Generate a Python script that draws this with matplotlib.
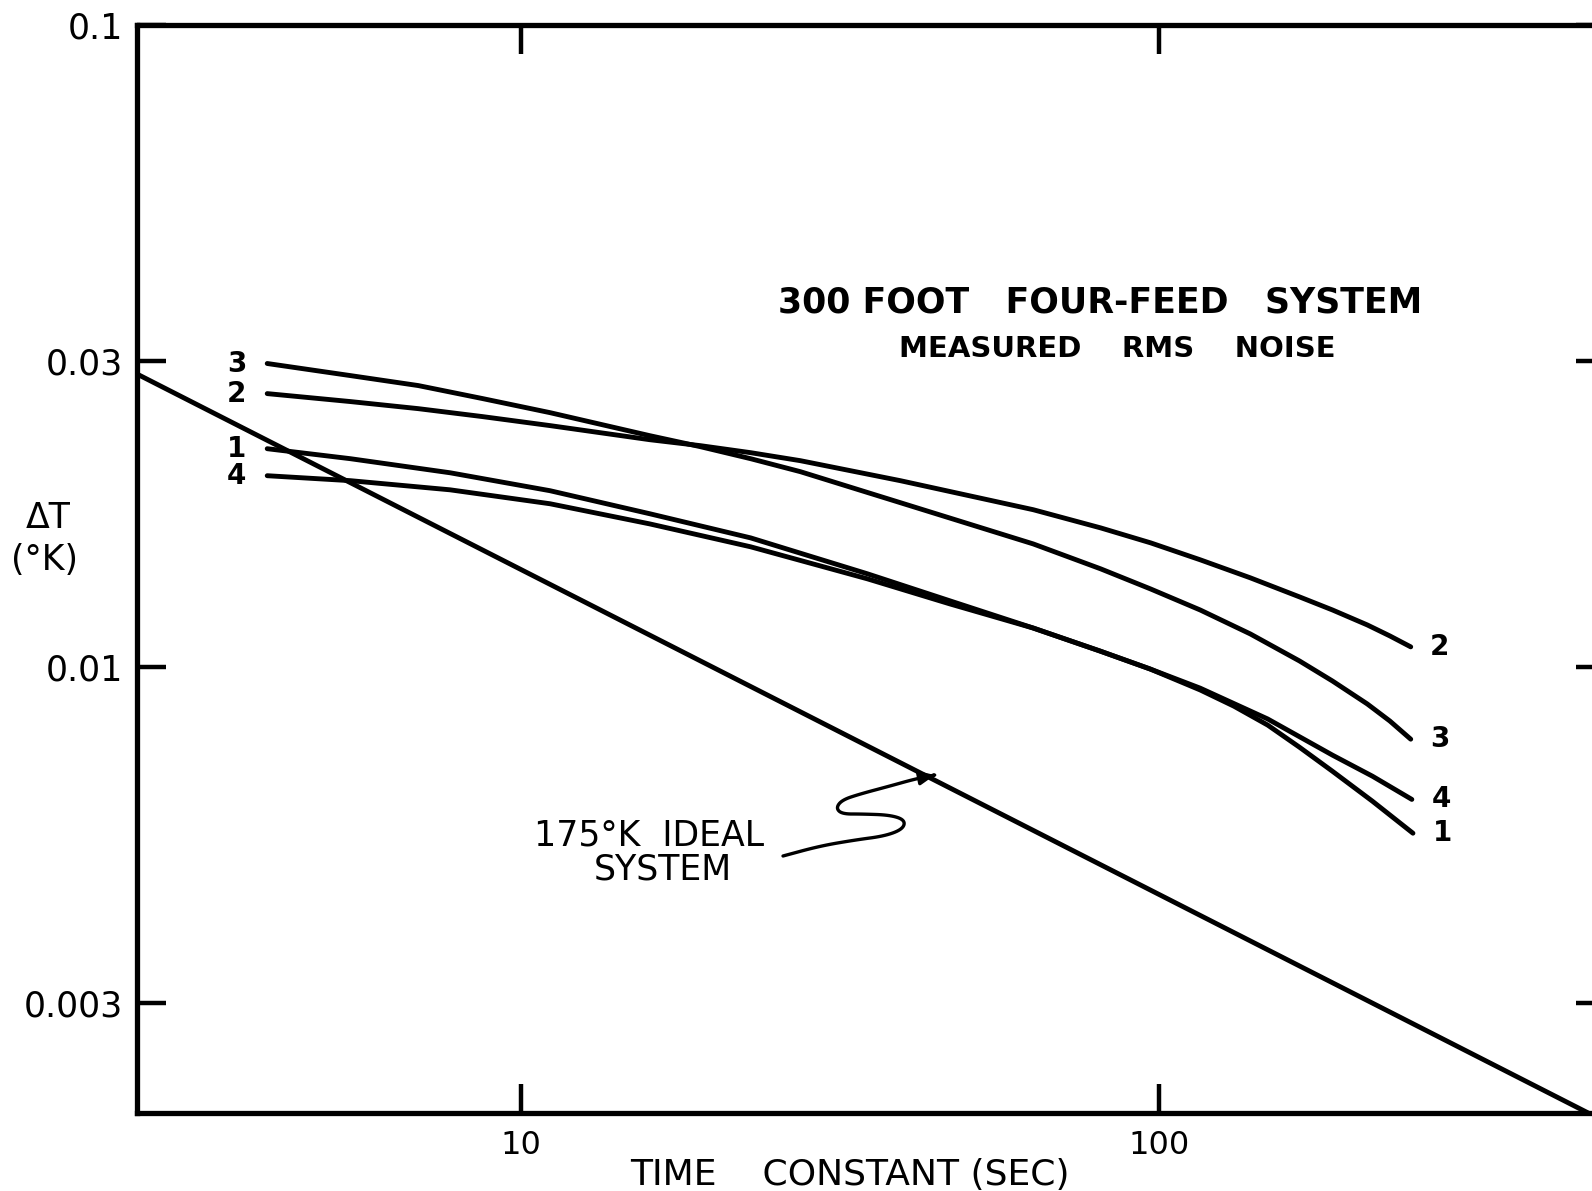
import numpy as np
import matplotlib.pyplot as plt
from matplotlib.path import Path
from matplotlib.patches import FancyArrowPatch

# time constant (sec) vs rms noise dT (K)
tau_23 = [4.0, 5.4, 6.9, 8.7, 11.1, 15.9, 19.1, 22.9, 27.4, 39.3, 63.5, 81, 97, 116, 139, 166, 187, 212, 230, 248]
dt_feed2 = [0.02666, 0.02591, 0.02526, 0.02455, 0.02377, 0.02260, 0.02212, 0.02157, 0.02096, 0.01951,
            0.01758, 0.01647, 0.01561, 0.01469, 0.01377, 0.01286, 0.01227, 0.01163, 0.01118, 0.01075]
dt_feed3 = [0.02970, 0.02844, 0.02744, 0.02619, 0.02490, 0.02293, 0.02204, 0.02111, 0.02015, 0.01803,
            0.01555, 0.01422, 0.01323, 0.01227, 0.01126, 0.01022, 0.00951, 0.00876, 0.00824, 0.00772]

tau_1 = [4.0, 5.4, 7.74, 11.1, 15.9, 22.9, 34.9, 47.0, 63.5, 80.8, 96.8, 116, 131, 148, 166, 187, 216, 250]
dt_feed1 = [0.02188, 0.02111, 0.02007, 0.01882, 0.01733, 0.01589, 0.01397, 0.01268, 0.01150, 0.01059,
            0.00993, 0.00921, 0.00869, 0.00812, 0.00750, 0.00688, 0.00618, 0.00551]
tau_4 = [4.0, 5.4, 7.74, 11.1, 15.9, 22.9, 34.9, 47.0, 63.5, 80.8, 96.8, 116, 148, 187, 216, 249]
dt_feed4 = [0.01986, 0.01951, 0.01888, 0.01796, 0.01671, 0.01539, 0.01372, 0.01254, 0.01150, 0.01059,
            0.00993, 0.00927, 0.00830, 0.00729, 0.00676, 0.00622]

tau_ideal = [2.5, 480]
dt_ideal = [0.0286, 0.0020]

feeds = [("1", tau_1, dt_feed1), ("2", tau_23, dt_feed2),
         ("3", tau_23, dt_feed3), ("4", tau_4, dt_feed4)]

yticks = [0.1, 0.03, 0.01, 0.003]
ytick_labels = ["0.1", "0.03", "0.01", "0.003"]
xticks = [10, 100]
xtick_labels = ["10", "100"]

plt.rcParams['font.family'] = ['DejaVu Sans']

fig = plt.figure(figsize=(15.92, 11.91), dpi=100)
# right spine sits just past the edge of the scan
ax = fig.add_axes([137 / 1592, 1 - 1113 / 1191, 1468 / 1592, 1088 / 1191])

lw = 3.5
ax.plot(tau_ideal, dt_ideal, color='black', lw=lw, solid_capstyle='round')
for name, t, d in feeds:
    ax.plot(t, d, color='black', lw=lw, solid_capstyle='round', solid_joinstyle='round')
    ax.annotate(name, xy=(t[0], d[0]), xytext=(-22, 0), textcoords='offset points',
                ha='center', va='center', fontsize=20, fontweight='bold')
    ax.annotate(name, xy=(t[-1], d[-1]), xytext=(21, 0), textcoords='offset points',
                ha='center', va='center', fontsize=20, fontweight='bold')

ax.set_xscale('log')
ax.set_yscale('log')
ax.set_xlim(2.5, 500)
ax.set_ylim(0.00202, 0.1)

ax.set_yticks(yticks)
ax.set_yticklabels(ytick_labels, fontsize=25)
ax.set_xticks(xticks)
ax.set_xticklabels(xtick_labels, fontsize=23)
ax.minorticks_off()
ax.tick_params(which='major', direction='in', length=21, width=3.2,
               top=True, right=True, pad=10)
ax.tick_params(axis='x', pad=12)
for s in ax.spines.values():
    s.set_linewidth(3.8)

ax.text(0.656, 0.745, "300 FOOT   FOUR-FEED   SYSTEM", transform=ax.transAxes,
        ha='center', va='center', fontsize=25, fontweight='bold')
ax.text(0.668, 0.702, "MEASURED    RMS    NOISE", transform=ax.transAxes,
        ha='center', va='center', fontsize=21, fontweight='bold')
ax.text(0.349, 0.2555, "175°K  IDEAL", transform=ax.transAxes,
        ha='center', va='center', fontsize=25)
ax.text(0.358, 0.224, "SYSTEM", transform=ax.transAxes,
        ha='center', va='center', fontsize=25)

fig.text(48 / 1592, 1 - 518 / 1191, "ΔT", ha='center', va='center', fontsize=25)
fig.text(44 / 1592, 1 - 560 / 1191, "(°K)", ha='center', va='center', fontsize=25)
fig.text(850 / 1592, 1 - 1175 / 1191, "TIME    CONSTANT (SEC)", ha='center', va='center',
         fontsize=26)


def chaikin(pts, n=3):
    pts = np.asarray(pts, float)
    for _ in range(n):
        q = 0.75 * pts[:-1] + 0.25 * pts[1:]
        r = 0.25 * pts[:-1] + 0.75 * pts[1:]
        mid = np.empty((2 * len(q), 2))
        mid[0::2] = q
        mid[1::2] = r
        pts = np.vstack([pts[:1], mid, pts[-1:]])
    return pts


# hand-drawn squiggly pointer to the ideal line (pixel positions in the scan)
squiggle_px = [(783, 856), (820, 846), (855, 840), (885, 836), (903, 829), (905, 820),
               (890, 815), (862, 814), (842, 814), (836, 808), (842, 800), (860, 794),
               (890, 786), (915, 779), (935, 775)]
sq = chaikin(squiggle_px)
verts = [((x - 137) / 1468, (1113 - y) / 1088) for x, y in sq]
arrow = FancyArrowPatch(path=Path(verts), arrowstyle='-|>,head_length=9,head_width=4',
                        transform=ax.transAxes, color='black', lw=2.4,
                        joinstyle='round', capstyle='round')
ax.add_patch(arrow)

fig.savefig("out.png", dpi=100)
